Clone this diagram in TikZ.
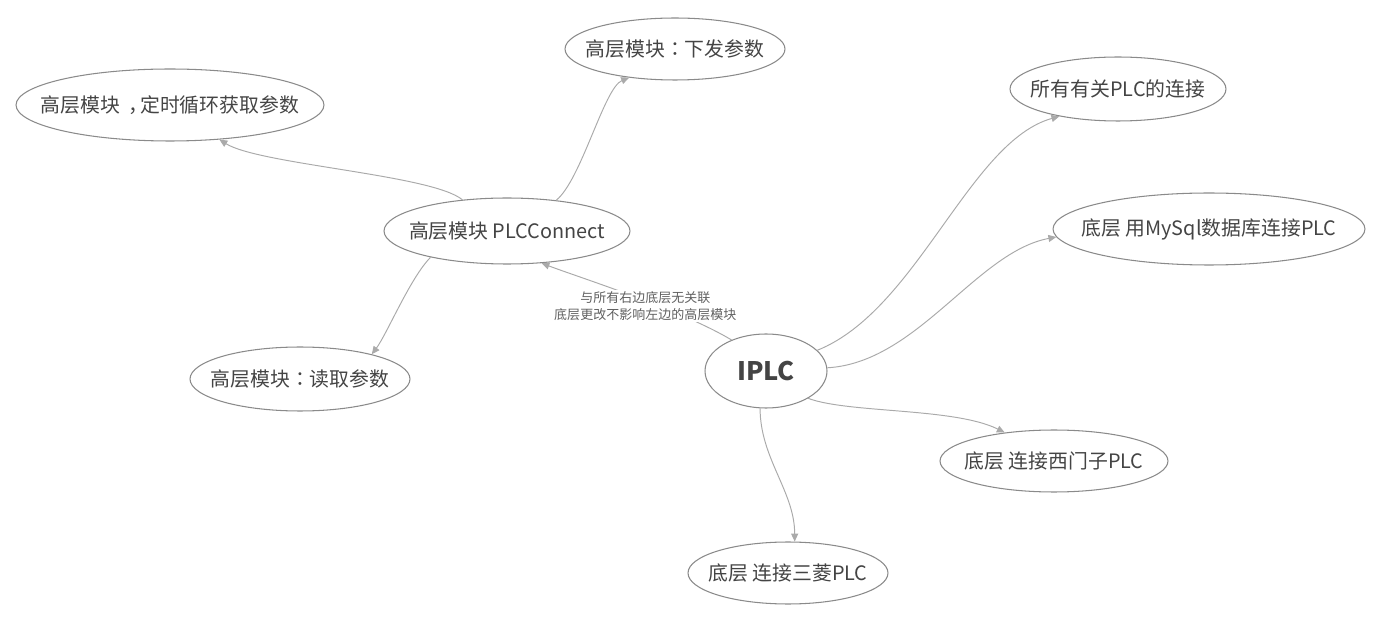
\documentclass[tikz,border=0pt]{standalone}
\usepackage{fontspec}
\setmainfont{Noto Sans CJK SC}
\newfontfamily\punct{Noto Sans CJK TC}
\usetikzlibrary{shapes.geometric,arrows.meta}
\definecolor{txt}{HTML}{444444}
\definecolor{rim}{HTML}{8A8A8A}
\definecolor{wire}{HTML}{AAAAAA}
\newcommand{\tpc}[1]{\makebox[0pt]{#1}}
\begin{document}
\begin{tikzpicture}[x=0.02cm,y=-0.02cm,
    topic/.style={draw=rim,line width=0.6pt,ellipse,inner sep=0pt,text=txt,font=\fontsize{11.3}{13}\selectfont},
    link/.style={draw=wire,line width=0.55pt,-{Triangle[length=4.5pt,width=4pt]}}]
        \useasboundingbox (0,0) rectangle (1380,621);
        \node[topic,minimum width=2.44cm,minimum height=1.48cm,font=\fontsize{14.5}{16}\selectfont\bfseries] (iplc) at (766,371) {\tpc{IPLC}};
        \node[topic,minimum width=4.92cm,minimum height=1.32cm] (conn) at (507,231) {\tpc{高层模块 PLCConnect}};
        \node[topic,minimum width=4.4cm,minimum height=1.24cm] (down) at (675,49) {\tpc{高层模块{\punct ：}下发参数}};
        \node[topic,minimum width=6.16cm,minimum height=1.44cm] (loop) at (170,105) {\tpc{高层模块\hspace{0.4em}，\hspace{-0.4em}定时循环获取参数}};
        \node[topic,minimum width=4.4cm,minimum height=1.28cm] (read) at (300,379) {\tpc{高层模块{\punct ：}读取参数}};
        \node[topic,minimum width=4.32cm,minimum height=1.28cm] (all) at (1118,89) {\tpc{所有有关PLC的连接}};
        \node[topic,minimum width=6.24cm,minimum height=1.44cm] (mysql) at (1209,229) {\tpc{底层 用MySql数据库连接PLC}};
        \node[topic,minimum width=4.56cm,minimum height=1.24cm] (siemens) at (1054,461) {\tpc{底层 连接西门子PLC}};
        \node[topic,minimum width=4.0cm,minimum height=1.24cm] (mitsu) at (788,573) {\tpc{底层 连接三菱PLC}};
        % right side
        \draw[link] (iplc.22) .. controls +(100,-40) and +(-90,25) .. (all.205);
        \draw[link] (iplc.3) .. controls +(90,-5) and +(-80,15) .. (mysql.183);
        \draw[link] (iplc.327) .. controls +(40,15) and +(-50,-25) .. (siemens.150);
        \draw[link] (iplc.261) .. controls +(0,50) and +(0,-50) .. (mitsu.78);
        % left side
        \draw[link] (iplc.138) .. controls +(-50,-30) and +(40,15) .. (conn.317)
            node[pos=0.5,xshift=0.25cm,yshift=-0.2cm,fill=white,inner sep=1pt,align=center,text=txt!85,font=\fontsize{7.4}{9.6}\selectfont] (note) {与所有右边底层无关联\\底层更改不影响左边的高层模块};
        \draw[link] (conn.32) .. controls +(25,-20) and +(-25,10) .. (down.212);
        \draw[link] (conn.145) .. controls +(-30,-25) and +(40,25) .. (loop.325);
        \draw[link] (conn.199) .. controls +(-20,20) and +(15,-20) .. (read.19);
    \end{tikzpicture}
\end{document}
